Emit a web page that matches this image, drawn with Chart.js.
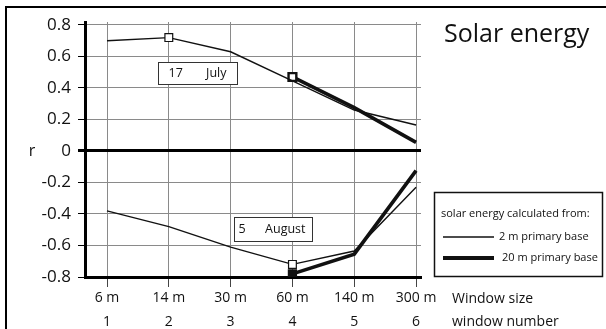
<!DOCTYPE html>
<html>
<head>
<meta charset="utf-8">
<script src="https://cdn.jsdelivr.net/npm/chart.js@4.4.1/dist/chart.umd.min.js"></script>
<style>
  html, body { margin: 0; padding: 0; background: #fff; }
  #wrap { width: 606px; height: 329px; position: relative; }
</style>
</head>
<body>
<div id="wrap"><canvas id="c"></canvas></div>
<script>
// Window sizes / window numbers along the x axis
const windowSizes = ['6 m', '14 m', '30 m', '60 m', '140 m', '300 m'];
const windowNumbers = ['1', '2', '3', '4', '5', '6'];
const windowIndex = [1, 2, 3, 4, 5, 6];

// Correlation r, July period
const julyBase2  = [0.70, 0.72, 0.63, 0.445, 0.26, 0.165];
const julyBase20 = [null, null, null, 0.47, 0.275, 0.055];

// Correlation r, August period
const augBase2  = [-0.38, -0.48, -0.61, -0.72, -0.635, -0.23];
const augBase20 = [null, null, null, -0.78, -0.655, -0.125];

// Marked windows (index into the series above)
const julyMarkBase2 = 1;
const julyMarkBase20 = 3;
const augMarkBase2 = 3;
const augMarkBase20 = 3;

const rTicks = [-0.8, -0.6, -0.4, -0.2, 0, 0.2, 0.4, 0.6, 0.8];

const seriesNames = ['2 m primary base', '20 m primary base'];
const legendTitle = 'solar energy calculated from:';
const chartTitle = 'Solar energy';
const axisCaptions = ['Window size', 'window number'];
const yCaption = 'r';
const periodTags = [
  { day: '17', month: 'July' },
  { day: '5', month: 'August' }
];

const FONT = '"Open Sans", "DejaVu Sans", sans-serif';

function pts(values) {
  return values.map((v, i) => ({ x: windowIndex[i], y: v }));
}
function markRadius(values, idx, r) {
  return values.map((_, i) => (i === idx ? r : 0));
}

const thin = 1.4, thick = 3.6;

const datasets = [
  {
    label: seriesNames[0], data: pts(julyBase2),
    borderColor: '#111', borderWidth: thin,
    pointStyle: 'rect', pointRadius: markRadius(julyBase2, julyMarkBase2, 5.5),
    pointBackgroundColor: '#fff', pointBorderColor: '#111', pointBorderWidth: 1.2
  },
  {
    label: seriesNames[1], data: pts(julyBase20),
    borderColor: '#111', borderWidth: thick,
    pointStyle: 'rect', pointRadius: markRadius(julyBase20, julyMarkBase20, 5.5),
    pointBackgroundColor: '#fff', pointBorderColor: '#111', pointBorderWidth: 2.4
  },
  {
    label: seriesNames[0], data: pts(augBase2),
    borderColor: '#111', borderWidth: thin,
    pointStyle: 'rect', pointRadius: markRadius(augBase2, augMarkBase2, 5.5),
    pointBackgroundColor: '#fff', pointBorderColor: '#111', pointBorderWidth: 1.2
  },
  {
    label: seriesNames[1], data: pts(augBase20),
    borderColor: '#111', borderWidth: thick,
    pointStyle: 'rect', pointRadius: markRadius(augBase20, augMarkBase20, 5.5),
    pointBackgroundColor: '#111', pointBorderColor: '#111', pointBorderWidth: 1.5
  }
];

// Text boxes tagging each period, centred at a data coordinate
const tagBoxes = [
  { x: 2.468, y: 0.495, w: 79, h: 22, dayInset: 10, monthInset: 11 },
  { x: 3.686, y: -0.495, w: 78, h: 24, dayInset: 4, monthInset: 7 }
];

const decor = {
  id: 'decor',
  beforeDraw(chart) {
    const { ctx } = chart;
    ctx.save();
    ctx.fillStyle = '#fff';
    ctx.fillRect(0, 0, chart.width, chart.height);
    ctx.restore();
  },
  afterDatasetsDraw(chart) {
    const { ctx, scales: { x, y } } = chart;
    ctx.save();
    ctx.font = '500 12.5px ' + FONT;
    ctx.textBaseline = 'middle';
    periodTags.forEach((t, i) => {
      const b = tagBoxes[i];
      const cx = x.getPixelForValue(b.x), cy = y.getPixelForValue(b.y);
      const left = Math.round(cx - b.w / 2) + 0.5, top = Math.round(cy - b.h / 2) + 0.5;
      ctx.fillStyle = '#fff';
      ctx.fillRect(left, top, b.w, b.h);
      ctx.strokeStyle = '#333';
      ctx.lineWidth = 1;
      ctx.strokeRect(left, top, b.w, b.h);
      ctx.fillStyle = '#111';
      ctx.textAlign = 'left';
      ctx.fillText(t.day, left + b.dayInset, top + b.h / 2);
      ctx.textAlign = 'right';
      ctx.fillText(t.month, left + b.w - b.monthInset, top + b.h / 2);
    });
    ctx.restore();
  },
  afterDraw(chart) {
    const { ctx, scales: { y } } = chart;
    ctx.save();
    // outer frame (top and left edges)
    ctx.strokeStyle = '#000';
    ctx.lineWidth = 2;
    ctx.beginPath();
    ctx.moveTo(6, chart.height);
    ctx.lineTo(6, 7);
    ctx.lineTo(chart.width, 7);
    ctx.stroke();

    ctx.fillStyle = '#111';
    // title
    ctx.font = '25px ' + FONT;
    ctx.textAlign = 'left';
    ctx.textBaseline = 'middle';
    ctx.fillText(chartTitle, 444, 35);

    // y caption
    ctx.font = '16px ' + FONT;
    ctx.textAlign = 'center';
    ctx.fillText(yCaption, 32, y.getPixelForValue(0));

    // x captions
    ctx.font = '14px ' + FONT;
    ctx.textAlign = 'left';
    ctx.fillText(axisCaptions[0], 452, 299);
    ctx.fillText(axisCaptions[1], 452, 322);

    // legend
    const lx = 434.5, ly = 192.5, lw = 168, lh = 84;
    ctx.strokeStyle = '#111';
    ctx.lineWidth = 1.5;
    ctx.strokeRect(lx, ly, lw, lh);
    ctx.font = '11px ' + FONT;
    ctx.textAlign = 'left';
    ctx.fillText(legendTitle, 441, 214);
    ctx.lineWidth = thin;
    ctx.beginPath(); ctx.moveTo(443, 237); ctx.lineTo(494, 237); ctx.stroke();
    ctx.fillText(seriesNames[0], 499, 237);
    ctx.lineWidth = 4;
    ctx.beginPath(); ctx.moveTo(443, 258); ctx.lineTo(494, 258); ctx.stroke();
    ctx.fillText(seriesNames[1], 502, 258);
    ctx.restore();
  }
};

const GRID = '#8a8a8a';

new Chart(document.getElementById('c'), {
  type: 'line',
  data: { datasets },
  options: {
    responsive: true,
    maintainAspectRatio: false,
    animation: false,
    layout: { padding: { left: 0, right: 185, top: 22, bottom: 0 } },
    plugins: { legend: { display: false }, tooltip: { enabled: false } },
    elements: { line: { tension: 0 } },
    scales: {
      x: {
        type: 'linear',
        min: 0.644, max: 6.08,
        afterBuildTicks: s => { s.ticks = windowIndex.map(v => ({ value: v })); },
        afterFit: s => { s.height = 52; },
        border: { display: true, color: '#000', width: 3 },
        grid: { color: GRID, lineWidth: 1, tickLength: 10, tickColor: '#444' },
        ticks: {
          autoSkip: false, maxRotation: 0, padding: -1,
          color: '#111',
          font: { family: FONT, size: 14, lineHeight: 1.714 },
          callback: v => {
            const i = windowIndex.indexOf(v);
            return i < 0 ? '' : [windowSizes[i], windowNumbers[i]];
          }
        }
      },
      y: {
        min: -0.8, max: 0.819,
        afterBuildTicks: s => { s.ticks = rTicks.map(v => ({ value: v })); },
        afterFit: s => { s.width = 85; },
        border: { display: true, color: '#000', width: 3 },
        grid: {
          color: c => (c.tick && c.tick.value === 0 ? '#000' : GRID),
          lineWidth: c => (c.tick && c.tick.value === 0 ? 3 : 1),
          tickLength: 7, tickColor: '#000'
        },
        ticks: {
          padding: 7, color: '#111',
          font: { family: FONT, size: 17 },
          callback: v => (v === 0 ? '0' : String(Math.round(v * 10) / 10))
        }
      }
    }
  },
  plugins: [decor]
});
</script>
</body>
</html>
